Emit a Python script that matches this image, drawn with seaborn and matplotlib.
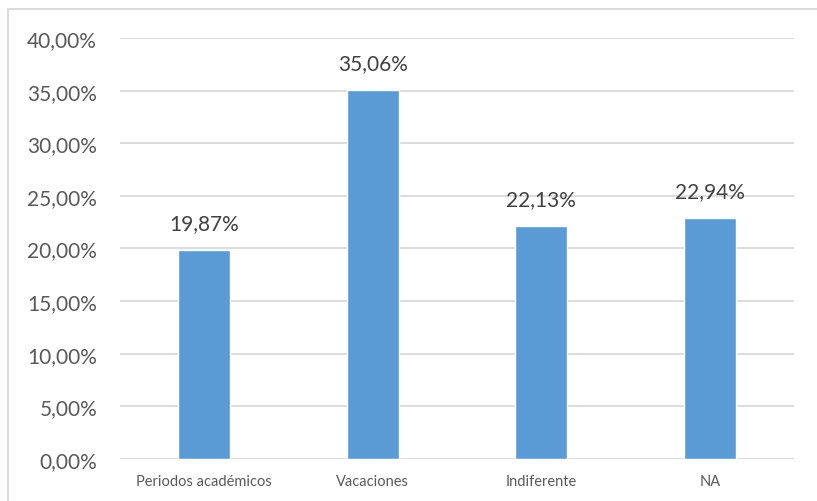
# Import libraries
import pandas as pd
import seaborn as sns
import matplotlib.pyplot as plt
from matplotlib.patches import Rectangle
from matplotlib.ticker import FuncFormatter

# Data
categorias = ["Periodos académicos", "Vacaciones", "Indiferente", "NA"]
porcentajes = [19.87, 35.06, 22.13, 22.94]
y_ticks = [0, 5, 10, 15, 20, 25, 30, 35, 40]

df = pd.DataFrame({"categoria": categorias, "porcentaje": porcentajes})

sns.set_style("white")
plt.rcParams["font.family"] = ["Lato", "DejaVu Sans"]

fig = plt.figure(figsize=(8.17, 5.02), dpi=100)
ax = fig.add_axes([0.1469, 0.0837, 0.8249, 0.8386])

sns.barplot(data=df, x="categoria", y="porcentaje", color="#5B9BD5",
            width=0.31, saturation=1, ax=ax, zorder=3)

# Percent labels above bars, with a comma as decimal separator
for i, v in enumerate(porcentajes):
    ax.text(i, v + 1.6, f"{v:.2f}%".replace(".", ","), ha="center", va="bottom",
            fontsize=15, color="#404040", zorder=4)

ax.set_ylim(0, 40)
ax.set_xlim(-0.5, 3.5)
ax.set_yticks(y_ticks)
ax.yaxis.set_major_formatter(FuncFormatter(lambda v, p: f"{v:.2f}%".replace(".", ",")))
ax.grid(axis="y", color="#D9D9D9", linewidth=1.3, zorder=0)
ax.set_xlabel("")
ax.set_ylabel("")
for s in ax.spines.values():
    s.set_visible(False)
ax.tick_params(axis="y", labelsize=15, labelcolor="#595959", length=0, pad=16.5)
ax.tick_params(axis="x", labelsize=10.5, labelcolor="#595959", length=0, pad=11)

# Chart border like the Excel frame
fig.patches.append(Rectangle((8 / 817, -0.01), 1.0, 1 - 9.5 / 502 + 0.01,
                             transform=fig.transFigure, fill=False,
                             edgecolor="#D9D9D9", linewidth=1.3))

plt.savefig("out.png", dpi=100)
